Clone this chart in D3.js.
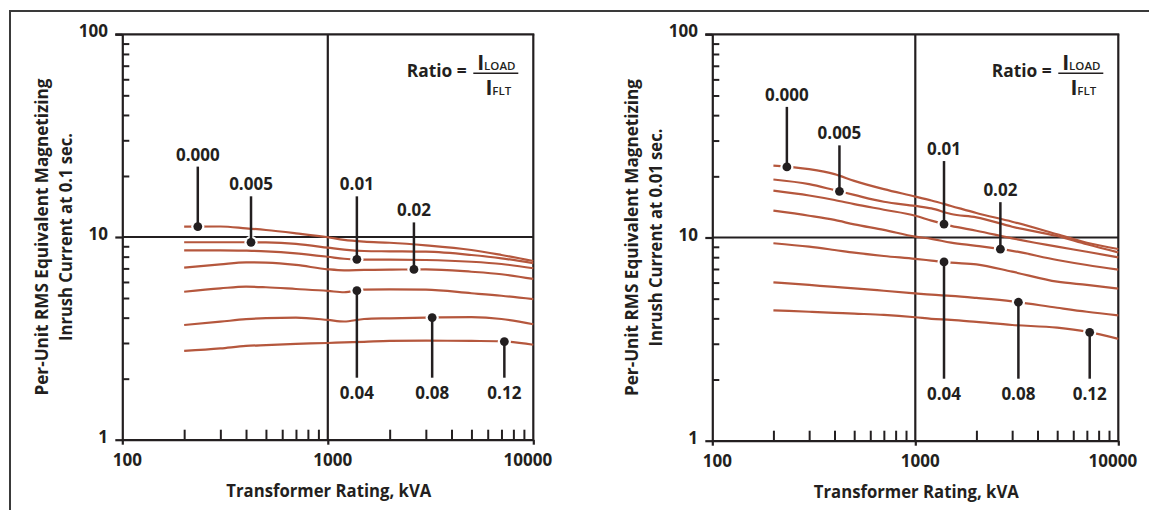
<!DOCTYPE html>
<html><head><meta charset="utf-8">
<script src="https://cdn.jsdelivr.net/npm/d3@7"></script>
<style>
html,body{margin:0;padding:0;background:#fff;}
svg{display:block;}
text{font-family:"Open Sans","Noto Sans",sans-serif;font-weight:700;fill:#231f20;}
.tick-lbl{font-size:17px;}
.title{font-size:17px;}
.curve-lbl{font-size:17px;}
</style></head><body>
<svg id="c" width="1149" height="510"></svg>
<script>
// ---------- data ----------
const kva = [200, 300, 400, 500, 700, 1000, 1200, 1500, 2000, 3000, 5000, 7000, 10000];
const ratioLabels = ["0.000", "0.005", "0.01", "0.02", "0.04", "0.08", "0.12"];
const xTickLabels = [100, 1000, 10000];
const yTickLabels = [1, 10, 100];
const xMinorTicks = [200, 300, 400, 500, 600, 700, 800, 900, 2000, 3000, 4000, 5000, 6000, 7000, 8000, 9000];
const yMinorTicks = [2, 3, 4, 5, 6, 7, 8, 9, 20, 30, 40, 50, 60, 70, 80, 90];

// Left chart: inrush current at 0.1 sec
const left000 = [11.24, 11.27, 11.04, 10.83, 10.43, 9.97, 9.67, 9.48, 9.37, 9.10, 8.63, 8.15, 7.61];
const left005 = [9.42, 9.42, 9.42, 9.40, 9.24, 8.86, 8.66, 8.53, 8.50, 8.46, 8.15, 7.85, 7.42];
const left01  = [8.60, 8.60, 8.56, 8.50, 8.31, 7.99, 7.81, 7.73, 7.73, 7.70, 7.55, 7.36, 7.01];
const left02  = [7.06, 7.33, 7.50, 7.47, 7.28, 6.93, 6.85, 6.88, 6.90, 6.93, 6.74, 6.55, 6.21];
const left04  = [5.37, 5.58, 5.69, 5.65, 5.54, 5.42, 5.34, 5.50, 5.52, 5.50, 5.28, 5.13, 4.94];
const left08  = [3.68, 3.82, 3.93, 3.98, 4.00, 3.90, 3.83, 3.94, 3.97, 4.00, 4.02, 3.94, 3.71];
const left12  = [2.74, 2.82, 2.90, 2.93, 2.97, 3.00, 3.02, 3.04, 3.07, 3.08, 3.07, 3.06, 2.94];

// Right chart: inrush current at 0.01 sec
const right000 = [22.6, 21.7, 20.5, 19.0, 17.3, 15.9, 15.2, 14.3, 13.2, 11.96, 10.37, 9.42, 8.78];
const right005 = [19.3, 18.3, 17.1, 16.2, 15.0, 14.3, 13.9, 13.05, 12.57, 11.3, 10.17, 9.26, 8.45];
const right01  = [17.0, 16.1, 15.3, 14.6, 13.7, 12.8, 12.1, 11.4, 10.8, 9.91, 9.01, 8.51, 7.99];
const right02  = [13.55, 12.8, 12.2, 11.6, 10.9, 10.1, 9.85, 9.43, 9.1, 8.6, 7.75, 7.32, 6.95];
const right04  = [9.37, 9.01, 8.68, 8.42, 8.11, 7.85, 7.70, 7.52, 7.38, 6.79, 6.06, 5.84, 5.60];
const right08  = [6.02, 5.84, 5.71, 5.62, 5.47, 5.31, 5.23, 5.16, 5.04, 4.85, 4.51, 4.31, 4.14];
const right12  = [4.38, 4.31, 4.26, 4.22, 4.16, 4.05, 3.98, 3.93, 3.84, 3.71, 3.60, 3.44, 3.17];

// kVA at which each ratio label points to its curve
const markerKva = [233, 423, 1385, 2625, 1385, 3220, 7230];

const xTitle = "Transformer Rating, kVA";
const yTitleLine1 = "Per-Unit RMS Equivalent Magnetizing";
const yTitleLeft = "Inrush Current at 0.1 sec.";
const yTitleRight = "Inrush Current at 0.01 sec.";

// ---------- layout ----------
const INK = "#231f20", CURVE = "#b5573d";
const panels = [
  {x0: 122.3, x1: 533.3, y0: 439.7, y1: 34.3, series: [left000, left005, left01, left02, left04, left08, left12], t2: yTitleLeft, t2len: 208},
  {x0: 712.3, x1: 1118.3, y0: 440.7, y1: 34.3, series: [right000, right005, right01, right02, right04, right08, right12], t2: yTitleRight, t2len: 218}
];
const leaderUp = [60, 46, 63, 47];   // px of leader line above marker for top labels

const svg = d3.select("#c");
svg.append("path").attr("d", "M10,510V11H1149").attr("fill", "none")
  .attr("stroke", "#3a3a3a").attr("stroke-width", 2);

panels.forEach(p => {
  const x = d3.scaleLog().domain([100, 10000]).range([p.x0, p.x1]);
  const y = d3.scaleLog().domain([1, 100]).range([p.y0, p.y1]);
  const g = svg.append("g");

  // minor ticks (inside)
  const gxm = g.append("g").attr("transform", `translate(0,${p.y0})`)
    .call(d3.axisBottom(x).tickValues(xMinorTicks).tickSize(-10).tickSizeOuter(0).tickFormat(""));
  gxm.select(".domain").remove();
  const gym = g.append("g").attr("transform", `translate(${p.x0},0)`)
    .call(d3.axisLeft(y).tickValues(yMinorTicks).tickSize(-7).tickSizeOuter(0).tickFormat(""));
  gym.select(".domain").remove();
  [gxm, gym].forEach(a => a.selectAll("line").attr("stroke", INK).attr("stroke-width", 2));

  // major axes
  const gx = g.append("g").attr("transform", `translate(0,${p.y0})`)
    .call(d3.axisBottom(x).tickValues(xTickLabels).tickSize(5).tickSizeOuter(0).tickFormat(d3.format("d")));
  const gy = g.append("g").attr("transform", `translate(${p.x0},0)`)
    .call(d3.axisLeft(y).tickValues(yTickLabels).tickSize(7).tickSizeOuter(0).tickFormat(d3.format("d")));
  [gx, gy].forEach(a => {
    a.attr("font-size", null).attr("font-family", null);
    a.selectAll("line,path").attr("stroke", INK).attr("stroke-width", 2.2);
    a.selectAll("text").attr("class", "tick-lbl");
  });
  gx.selectAll("text").attr("y", 26).attr("dy", null)
    .attr("dx", (d, i) => i === xTickLabels.length - 1 ? -6 : 4.5);
  gy.selectAll("text").attr("x", -14.3).attr("dy", null).attr("y", 2.5);

  // grid lines + borders
  const L = (x1, y1, x2, y2) => g.append("line").attr("x1", x1).attr("y1", y1).attr("x2", x2).attr("y2", y2)
    .attr("stroke", INK).attr("stroke-width", 2.2);
  L(x(1000), y(100), x(1000), y(1));
  L(x(100), y(10), x(10000), y(10));
  L(x(100) - 7, y(100), x(10000) + 1, y(100));
  L(x(10000), y(100), x(10000), y(1));

  // curves
  const line = d3.line().x((d, i) => x(kva[i])).y(d => y(d)).curve(d3.curveMonotoneX);
  p.series.forEach(s => g.append("path").attr("d", line(s)).attr("fill", "none")
    .attr("stroke", CURVE).attr("stroke-width", 2.2));

  // markers & labels
  const lk = kva.map(v => Math.log10(v));
  p.series.forEach((s, i) => {
    const k = markerKva[i], lkv = Math.log10(k);
    let j = d3.bisectRight(lk, lkv) - 1; j = Math.max(0, Math.min(j, kva.length - 2));
    const t = (lkv - lk[j]) / (lk[j + 1] - lk[j]);
    const val = Math.pow(10, Math.log10(s[j]) + t * (Math.log10(s[j + 1]) - Math.log10(s[j])));
    const mx = x(k), my = y(val);
    let yEnd, ly;
    if (i < 4) { yEnd = my - leaderUp[i]; ly = yEnd - 6; }
    else { yEnd = p.y0 - 62; ly = yEnd + 21.5; }
    g.append("circle").attr("cx", mx).attr("cy", my).attr("r", 6.6).attr("fill", "#fff");
    g.append("line").attr("x1", mx).attr("x2", mx).attr("y1", my).attr("y2", yEnd)
      .attr("stroke", INK).attr("stroke-width", 2.5);
    g.append("circle").attr("cx", mx).attr("cy", my).attr("r", 4.4).attr("fill", INK);
    g.append("text").attr("class", "curve-lbl").attr("x", mx).attr("y", ly)
      .attr("text-anchor", "middle").text(ratioLabels[i]);
  });

  // ratio formula
  const re = p.x1;
  g.append("text").attr("class", "title").attr("x", re - 66.5).attr("y", p.y1 + 42.4)
    .attr("text-anchor", "end").attr("textLength", 60).attr("lengthAdjust", "spacingAndGlyphs").text("Ratio =");
  const fc = re - 37;
  const num = g.append("text").attr("x", fc).attr("y", p.y1 + 35.2).attr("text-anchor", "middle");
  num.append("tspan").attr("font-size", 21).text("I");
  num.append("tspan").attr("font-size", 11.5).attr("font-weight", 600).text("LOAD");
  const den = g.append("text").attr("x", fc + 2).attr("y", p.y1 + 60.7).attr("text-anchor", "middle");
  den.append("tspan").attr("font-size", 21).text("I");
  den.append("tspan").attr("font-size", 11.5).attr("font-weight", 600).text("FLT");
  g.append("line").attr("x1", fc - 23).attr("x2", fc + 22).attr("y1", p.y1 + 39).attr("y2", p.y1 + 39)
    .attr("stroke", INK).attr("stroke-width", 1.4);

  // titles
  g.append("text").attr("class", "title").attr("x", (p.x0 + p.x1) / 2 + 1).attr("y", p.y0 + 57.5)
    .attr("text-anchor", "middle").attr("textLength", 205).attr("lengthAdjust", "spacingAndGlyphs").text(xTitle);
  const cy = (p.y0 + p.y1) / 2;
  g.append("text").attr("class", "title").attr("transform", `translate(${p.x0 - 74},${cy}) rotate(-90)`)
    .attr("text-anchor", "middle").attr("textLength", 317).attr("lengthAdjust", "spacingAndGlyphs").text(yTitleLine1);
  g.append("text").attr("class", "title").attr("transform", `translate(${p.x0 - 50},${cy}) rotate(-90)`)
    .attr("text-anchor", "middle").attr("textLength", p.t2len).attr("lengthAdjust", "spacingAndGlyphs").text(p.t2);
});
</script>
</body></html>
